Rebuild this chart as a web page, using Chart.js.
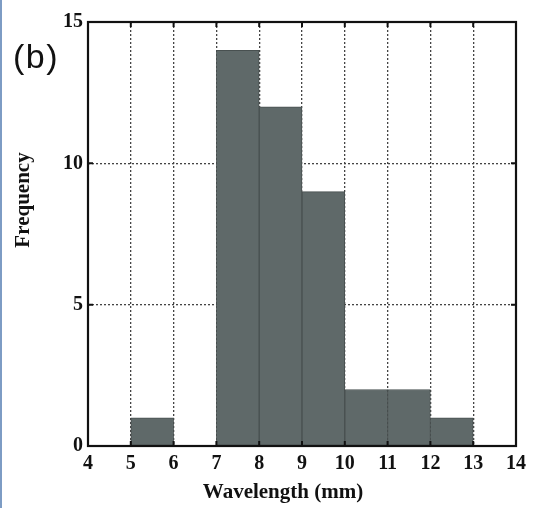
<!DOCTYPE html>
<html>
<head>
<meta charset="utf-8">
<script src="https://cdn.jsdelivr.net/npm/chart.js@4.4.0/dist/chart.umd.min.js"></script>
<style>
  html, body { margin: 0; padding: 0; background: #fff; }
  #wrap { position: relative; width: 541px; height: 508px; }
  #edge { position: absolute; left: 0; top: 0; width: 2px; height: 508px; background: #7d9cc4; }
  #label { position: absolute; left: 13px; top: 37px; font-family: "Liberation Sans", "DejaVu Sans", sans-serif; font-size: 34px; letter-spacing: 1.5px; color: #111; }
</style>
</head>
<body>
<div id="wrap">
  <canvas id="c" width="541" height="508"></canvas>
  <div id="edge"></div>
  <div id="label">(b)</div>
</div>
<script>
const binCenters = [5.5, 7.5, 8.5, 9.5, 10.5, 11.5, 12.5];
const frequencies = [1, 14, 12, 9, 2, 2, 1];
const xTickRange = [4, 14];
const yTickRange = [0, 15];
const xTitle = 'Wavelength (mm)';
const yTitle = 'Frequency';

const points = binCenters.map((x, i) => ({ x: x, y: frequencies[i] }));
const serif = '"Liberation Serif", "Times New Roman", serif';

const frameAndTicks = {
  id: 'frameAndTicks',
  afterDatasetsDraw(chart) {
    const ctx = chart.ctx;
    const a = chart.chartArea;
    const xs = chart.scales.x, ys = chart.scales.y;
    ctx.save();
    ctx.strokeStyle = '#111';
    ctx.lineWidth = 2.2;
    ctx.setLineDash([]);
    ctx.strokeRect(a.left, a.top, a.right - a.left, a.bottom - a.top);
    ctx.lineWidth = 2;
    const L = 5;
    xs.ticks.forEach(t => {
      const px = xs.getPixelForValue(t.value);
      ctx.beginPath();
      ctx.moveTo(px, a.bottom); ctx.lineTo(px, a.bottom - L);
      ctx.moveTo(px, a.top); ctx.lineTo(px, a.top + L);
      ctx.stroke();
    });
    ys.ticks.forEach(t => {
      const py = ys.getPixelForValue(t.value);
      ctx.beginPath();
      ctx.moveTo(a.left, py); ctx.lineTo(a.left + L, py);
      ctx.moveTo(a.right, py); ctx.lineTo(a.right - L, py);
      ctx.stroke();
    });
    // axis titles
    ctx.fillStyle = '#111';
    ctx.font = 'bold 21px ' + serif;
    ctx.textAlign = 'center';
    ctx.textBaseline = 'middle';
    ctx.fillText(xTitle, 283, 493);
    ctx.translate(24, 200);
    ctx.rotate(-Math.PI / 2);
    ctx.fillText(yTitle, 0, 0);
    ctx.restore();
  }
};

new Chart(document.getElementById('c'), {
  type: 'bar',
  data: {
    datasets: [{
      data: points,
      backgroundColor: '#5f6969',
      borderColor: '#485050',
      borderWidth: 1,
      barPercentage: 1,
      categoryPercentage: 1,
      borderSkipped: false
    }]
  },
  options: {
    responsive: false,
    animation: false,
    devicePixelRatio: 1,
    layout: { padding: { top: 22, right: 25, left: 0, bottom: 0 } },
    plugins: { legend: { display: false }, tooltip: { enabled: false } },
    scales: {
      x: {
        type: 'linear',
        min: xTickRange[0], max: xTickRange[1],
        offset: false,
        ticks: { stepSize: 1, color: '#111', padding: 6, font: { family: serif, size: 20, weight: 'bold' } },
        grid: { display: true, offset: false, color: '#444', lineWidth: 1.3, drawTicks: false },
        border: { display: false, dash: [2, 2] },
        afterFit(s) { s.height = 62; }
      },
      y: {
        min: yTickRange[0], max: yTickRange[1],
        ticks: { stepSize: 5, color: '#111', padding: 5, font: { family: serif, size: 20, weight: 'bold' } },
        grid: { display: true, color: '#444', lineWidth: 1.3, drawTicks: false },
        border: { display: false, dash: [2, 2] },
        afterFit(s) { s.width = 88; }
      }
    }
  },
  plugins: [frameAndTicks]
});
</script>
</body>
</html>
